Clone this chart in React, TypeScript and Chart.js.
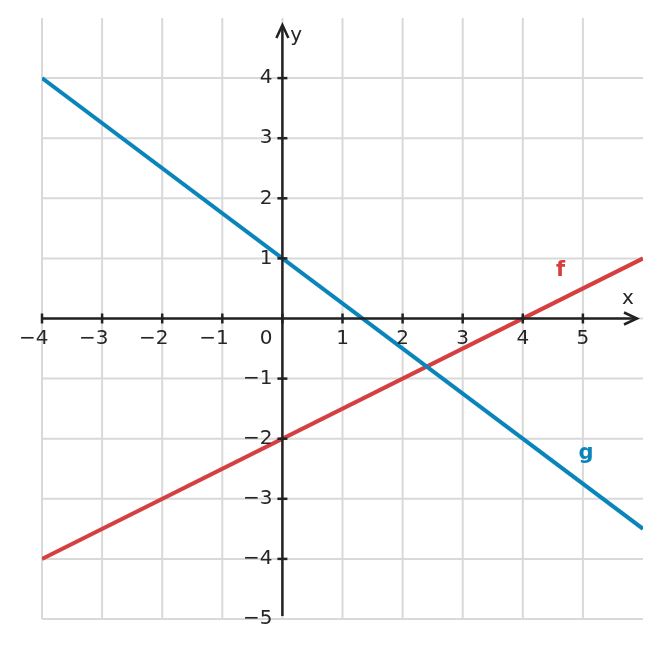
import { useEffect, useRef } from 'react';
import Chart from 'chart.js/auto';

const X_RANGE = [-4, 6];
const Y_RANGE = [-5, 5];
const X_TICKS = [-4, -3, -2, -1, 1, 2, 3, 4, 5];
const Y_TICKS = [-5, -4, -3, -2, -1, 1, 2, 3, 4];
const GRID_X = [-4, -3, -2, -1, 0, 1, 2, 3, 4, 5];
const GRID_Y = [-5, -4, -3, -2, -1, 0, 1, 2, 3, 4];
const LINE_X = [-4, 6];
const F_VALUES = [-4, 1];
const G_VALUES = [4, -3.5];

const C = {
  red: '#d63f3f',
  blue: '#0a85bb',
  grid: '#d9d9d9',
  axis: '#222222',
  text: '#262626'
};

const FONT = '"DejaVu Sans", sans-serif';

// light grid under the lines
const gridPlugin = {
  id: 'unitGrid',
  beforeDatasetsDraw(chart: any) {
    const { ctx } = chart;
    const xs = chart.scales.x;
    const ys = chart.scales.y;
    const left = xs.getPixelForValue(X_RANGE[0]);
    const right = xs.getPixelForValue(X_RANGE[1]);
    const top = ys.getPixelForValue(Y_RANGE[1]);
    const bottom = ys.getPixelForValue(Y_RANGE[0]);
    ctx.save();
    ctx.strokeStyle = C.grid;
    ctx.lineWidth = 2;
    GRID_X.forEach((v) => {
      const px = xs.getPixelForValue(v);
      ctx.beginPath();
      ctx.moveTo(px, top);
      ctx.lineTo(px, bottom);
      ctx.stroke();
    });
    GRID_Y.forEach((v) => {
      const py = ys.getPixelForValue(v);
      ctx.beginPath();
      ctx.moveTo(left, py);
      ctx.lineTo(right, py);
      ctx.stroke();
    });
    ctx.restore();
  }
};

// axes through the origin, arrows, tick marks and labels
const axesPlugin = {
  id: 'originAxes',
  afterDatasetsDraw(chart: any) {
    const { ctx } = chart;
    const xs = chart.scales.x;
    const ys = chart.scales.y;
    const x0 = xs.getPixelForValue(0);
    const y0 = ys.getPixelForValue(0);
    const left = xs.getPixelForValue(X_RANGE[0]);
    const right = xs.getPixelForValue(X_RANGE[1]);
    const top = ys.getPixelForValue(Y_RANGE[1]);
    const bottom = ys.getPixelForValue(Y_RANGE[0]);

    ctx.save();
    ctx.strokeStyle = C.axis;
    ctx.lineWidth = 2.5;
    ctx.lineCap = 'butt';

    // x axis
    ctx.beginPath();
    ctx.moveTo(left, y0);
    ctx.lineTo(right - 6, y0);
    ctx.stroke();
    // y axis
    ctx.beginPath();
    ctx.moveTo(x0, bottom - 3);
    ctx.lineTo(x0, top + 7);
    ctx.stroke();

    // arrows
    ctx.lineJoin = 'miter';
    ctx.beginPath();
    ctx.moveTo(right - 19, y0 - 6);
    ctx.lineTo(right - 6, y0);
    ctx.lineTo(right - 19, y0 + 6);
    ctx.stroke();
    ctx.beginPath();
    ctx.moveTo(x0 - 6, top + 20);
    ctx.lineTo(x0, top + 7);
    ctx.lineTo(x0 + 6, top + 20);
    ctx.stroke();

    // tick marks
    [...X_TICKS, 0].forEach((v) => {
      const px = xs.getPixelForValue(v);
      ctx.beginPath();
      ctx.moveTo(px, y0 - 5);
      ctx.lineTo(px, y0 + 5);
      ctx.stroke();
    });
    Y_TICKS.forEach((v) => {
      if (v === Y_RANGE[0]) return;
      const py = ys.getPixelForValue(v);
      ctx.beginPath();
      ctx.moveTo(x0 - 5, py);
      ctx.lineTo(x0 + 5, py);
      ctx.stroke();
    });

    // tick labels
    ctx.fillStyle = C.text;
    ctx.font = `20px ${FONT}`;
    const half = ctx.measureText('0').width / 2;
    const fmt = (v: number) => (v < 0 ? '\u2212' : '') + Math.abs(v);
    ctx.textAlign = 'right';
    ctx.textBaseline = 'middle';
    X_TICKS.forEach((v) => {
      const px = xs.getPixelForValue(v);
      ctx.fillText(fmt(v), px + half, y0 + 20);
    });
    ctx.fillText('0', x0 - 10, y0 + 20);
    Y_TICKS.forEach((v) => {
      const py = ys.getPixelForValue(v);
      ctx.fillText(fmt(v), x0 - 10, py);
    });

    // axis names
    ctx.font = `20px ${FONT}`;
    ctx.textAlign = 'center';
    ctx.fillText('x', xs.getPixelForValue(5.75), ys.getPixelForValue(0.33));
    ctx.fillText('y', xs.getPixelForValue(0.23), ys.getPixelForValue(4.7));

    // function names
    ctx.font = `bold 21px ${FONT}`;
    ctx.fillStyle = C.red;
    ctx.fillText('f', xs.getPixelForValue(4.63), ys.getPixelForValue(0.8));
    ctx.fillStyle = C.blue;
    ctx.fillText('g', xs.getPixelForValue(5.05), ys.getPixelForValue(-2.25));
    ctx.restore();
  }
};

export default function App() {
  const canvasRef = useRef<HTMLCanvasElement | null>(null);

  useEffect(() => {
    let chart: Chart | null = null;
    if (canvasRef.current) {
      chart = new Chart(canvasRef.current, {
        type: 'scatter',
        data: {
          datasets: [
            {
              label: 'f',
              data: LINE_X.map((x, i) => ({ x, y: F_VALUES[i] })),
              showLine: true,
              borderColor: C.red,
              borderWidth: 4,
              pointRadius: 0,
              order: 2
            },
            {
              label: 'g',
              data: LINE_X.map((x, i) => ({ x, y: G_VALUES[i] })),
              showLine: true,
              borderColor: C.blue,
              borderWidth: 4,
              pointRadius: 0,
              order: 1
            }
          ]
        },
        options: {
          responsive: false,
          animation: false,
          layout: { padding: { left: 42, right: 18, top: 18, bottom: 29 } },
          plugins: {
            legend: { display: false },
            tooltip: { enabled: false }
          },
          scales: {
            x: { type: 'linear', display: false, min: X_RANGE[0], max: X_RANGE[1] },
            y: { type: 'linear', display: false, min: Y_RANGE[0], max: Y_RANGE[1] }
          }
        },
        plugins: [gridPlugin, axesPlugin]
      });
    }
    return () => {
      if (chart) chart.destroy();
    };
  }, []);

  return (
    <div style={{ position: 'absolute', left: 0, top: 0, width: 661, height: 648, background: '#fff' }}>
      <canvas ref={canvasRef} width={661} height={648} style={{ display: 'block' }} />
    </div>
  );
}
